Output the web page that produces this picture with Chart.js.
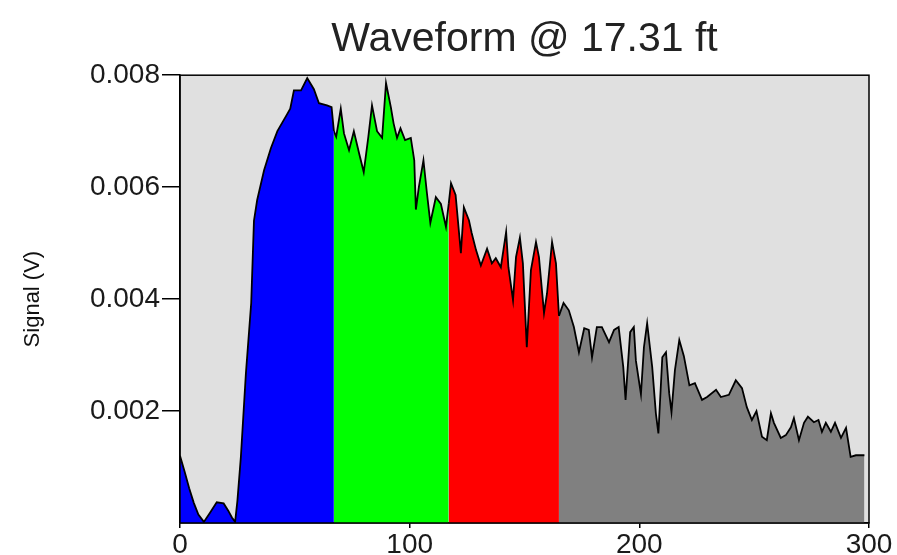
<!DOCTYPE html>
<html>
<head>
<meta charset="utf-8">
<script src="https://cdn.jsdelivr.net/npm/chart.js@4"></script>
<style>
html,body{margin:0;padding:0;background:#fff;overflow:hidden}
#wrap{width:897px;height:555px;position:relative}
</style>
</head>
<body>
<div id="wrap"><canvas id="c" width="897" height="555"></canvas></div>
<script>
// Sample positions along the waveform (x axis units)
const positions = [
  0,2,4,6,8,10.4,13,16,19,21,22.6,24,25,26.5,28.7,31,32.2,33.6,36.6,39.6,42.4,46.6,48,49.6,52.7,55.4,58.3,60.5,64,66,67,
  68,70,71.4,73.6,75.7,78,80,82,83.6,85.8,88,89.7,91.8,93,94.5,96,98,100.5,102,102.7,104,106,107.5,109,111.4,113.6,115.8,117,
  118,120,122.3,123.6,125.8,127,128.9,131,133.7,135.8,137.5,139.7,142,143,145,146.3,148,149.3,151,152.8,155,156.3,158.5,159.8,162,163.7,165,
  167,169.3,171.5,173.7,176,178,179.4,181.5,183.7,186.8,189,191,193,194,196,197.6,198.5,200.7,202,203.4,205.6,207.2,208.3,210,211.6,
  213,214,215.5,217.4,219.4,221.8,224.2,227.3,229.5,233.4,235.5,239,242,244.7,246.8,249,251,253.4,255.5,257.3,258.6,261.6,263.8,266,
  267.3,269.5,271.7,273.4,276,278,279.5,281.2,283.4,285.2,287.8,290,292,294.3,298
];
// Signal in volts at each position
const signal = [
  0.00120,0.00092,0.00062,0.00036,0.00015,0.00002,0.00018,0.00037,0.00035,0.00022,0.00010,0.00002,0.00040,0.00118,0.00268,0.00393,
  0.00540,0.00577,0.00630,0.00670,0.00700,0.00730,0.00740,0.00773,0.00773,0.00795,0.00775,0.00750,0.00746,0.00743,0.00700,
  0.00690,0.00740,0.00696,0.00666,0.00700,0.00660,0.00627,0.00690,0.00746,0.00700,0.00688,0.00786,0.00743,0.00714,0.00688,0.00705,
  0.00684,0.00688,0.00648,0.00560,0.00600,0.00648,0.00590,0.00536,0.00582,0.00570,0.00529,0.00570,
  0.00607,0.00586,0.00482,0.00564,0.00541,0.00518,0.004875,0.00460,0.00490,0.00464,0.00473,0.00457,0.00520,0.00457,0.00398,0.00475,
  0.00510,0.00464,0.00314,0.00452,0.00502,0.00475,0.00375,0.00410,0.00502,0.00464,0.00370,
  0.00393,0.00380,0.00350,0.00305,0.00348,0.00345,0.00296,0.00350,0.00350,0.00323,0.00345,0.00350,0.00279,0.00220,0.00341,
  0.00350,0.00290,0.00230,0.00314,0.00357,0.00279,0.00196,0.00160,0.00296,0.00305,
  0.00232,0.00198,0.00273,0.00327,0.00298,0.00246,0.00250,0.00220,0.00225,0.00238,0.00225,0.00229,0.00255,0.00241,0.00207,
  0.00184,0.00200,0.00154,0.00148,0.00196,0.00179,0.00152,0.00157,0.00171,0.001875,0.00148,0.00179,0.00190,0.00180,0.00184,
  0.00163,0.00179,0.00163,0.00179,0.00152,0.00170,0.00118,0.00121,0.00121
];
// Colour bands along x
const bandEdges = [0, 67, 117, 165, 298];
const bandColors = ['#0000ff', '#00ff00', '#ff0000', '#808080'];
const xTickValues = [0, 100, 200, 300];
const yTickValues = [0.002, 0.004, 0.006, 0.008];
const titleText = 'Waveform @ 17.31 ft';
const yTitleText = 'Signal (V)';

const datasets = bandColors.map((color, i) => {
  const pts = [];
  positions.forEach((x, k) => {
    if (x >= bandEdges[i] && x <= bandEdges[i + 1]) pts.push({ x: x, y: signal[k] });
  });
  return {
    data: pts,
    backgroundColor: color,
    borderColor: '#000000',
    borderWidth: 1.8,
    fill: 'origin',
    pointRadius: 0,
    tension: 0
  };
});

const plotFrame = {
  id: 'plotFrame',
  beforeDraw(chart) {
    const { ctx, chartArea: a } = chart;
    ctx.save();
    ctx.fillStyle = '#ffffff';
    ctx.fillRect(0, 0, chart.width, chart.height);
    ctx.fillStyle = '#e0e0e0';
    ctx.fillRect(a.left, a.top, a.right - a.left, a.bottom - a.top);
    ctx.restore();
  },
  afterDraw(chart) {
    const { ctx, chartArea: a } = chart;
    ctx.save();
    ctx.strokeStyle = '#000000';
    ctx.lineWidth = 1.5;
    ctx.strokeRect(a.left, a.top, a.right - a.left, a.bottom - a.top);
    ctx.restore();
  }
};

Chart.defaults.font.family = '"Liberation Sans", Arial, sans-serif';

new Chart(document.getElementById('c'), {
  type: 'line',
  data: { datasets: datasets },
  options: {
    responsive: false,
    animation: false,
    devicePixelRatio: 1,
    layout: { padding: { left: 0, right: 28, top: 0, bottom: 0 } },
    plugins: {
      legend: { display: false },
      tooltip: { enabled: false },
      title: {
        display: true,
        text: titleText,
        fullSize: false,
        color: '#222222',
        font: { size: 41, weight: 'normal' },
        padding: { top: 15, bottom: 11 }
      }
    },
    scales: {
      x: {
        type: 'linear',
        min: 0,
        max: 300,
        afterBuildTicks: s => { s.ticks = xTickValues.map(v => ({ value: v })); },
        afterFit: s => { s.height = 32; },
        grid: { drawOnChartArea: false, drawTicks: true, tickLength: 5, color: '#000000', lineWidth: 1.5 },
        border: { display: true, color: '#000000', width: 1.5 },
        ticks: { color: '#1a1a1a', font: { size: 28 }, padding: 0, maxRotation: 0, autoSkip: false,
                 callback: v => String(v) }
      },
      y: {
        type: 'linear',
        min: 0,
        max: 0.008,
        afterBuildTicks: s => { s.ticks = yTickValues.map(v => ({ value: v })); },
        afterFit: s => { s.width = 180; },
        grid: { drawOnChartArea: false, drawTicks: true, tickLength: 18, color: '#000000', lineWidth: 1.5 },
        border: { display: true, color: '#000000', width: 1.5 },
        ticks: { color: '#1a1a1a', font: { size: 28 }, padding: 2, callback: v => v.toFixed(3) },
        title: { display: true, text: yTitleText, color: '#111111', font: { size: 22 }, padding: { top: 20, bottom: 0 } }
      }
    }
  },
  plugins: [plotFrame]
});
</script>
</body>
</html>
